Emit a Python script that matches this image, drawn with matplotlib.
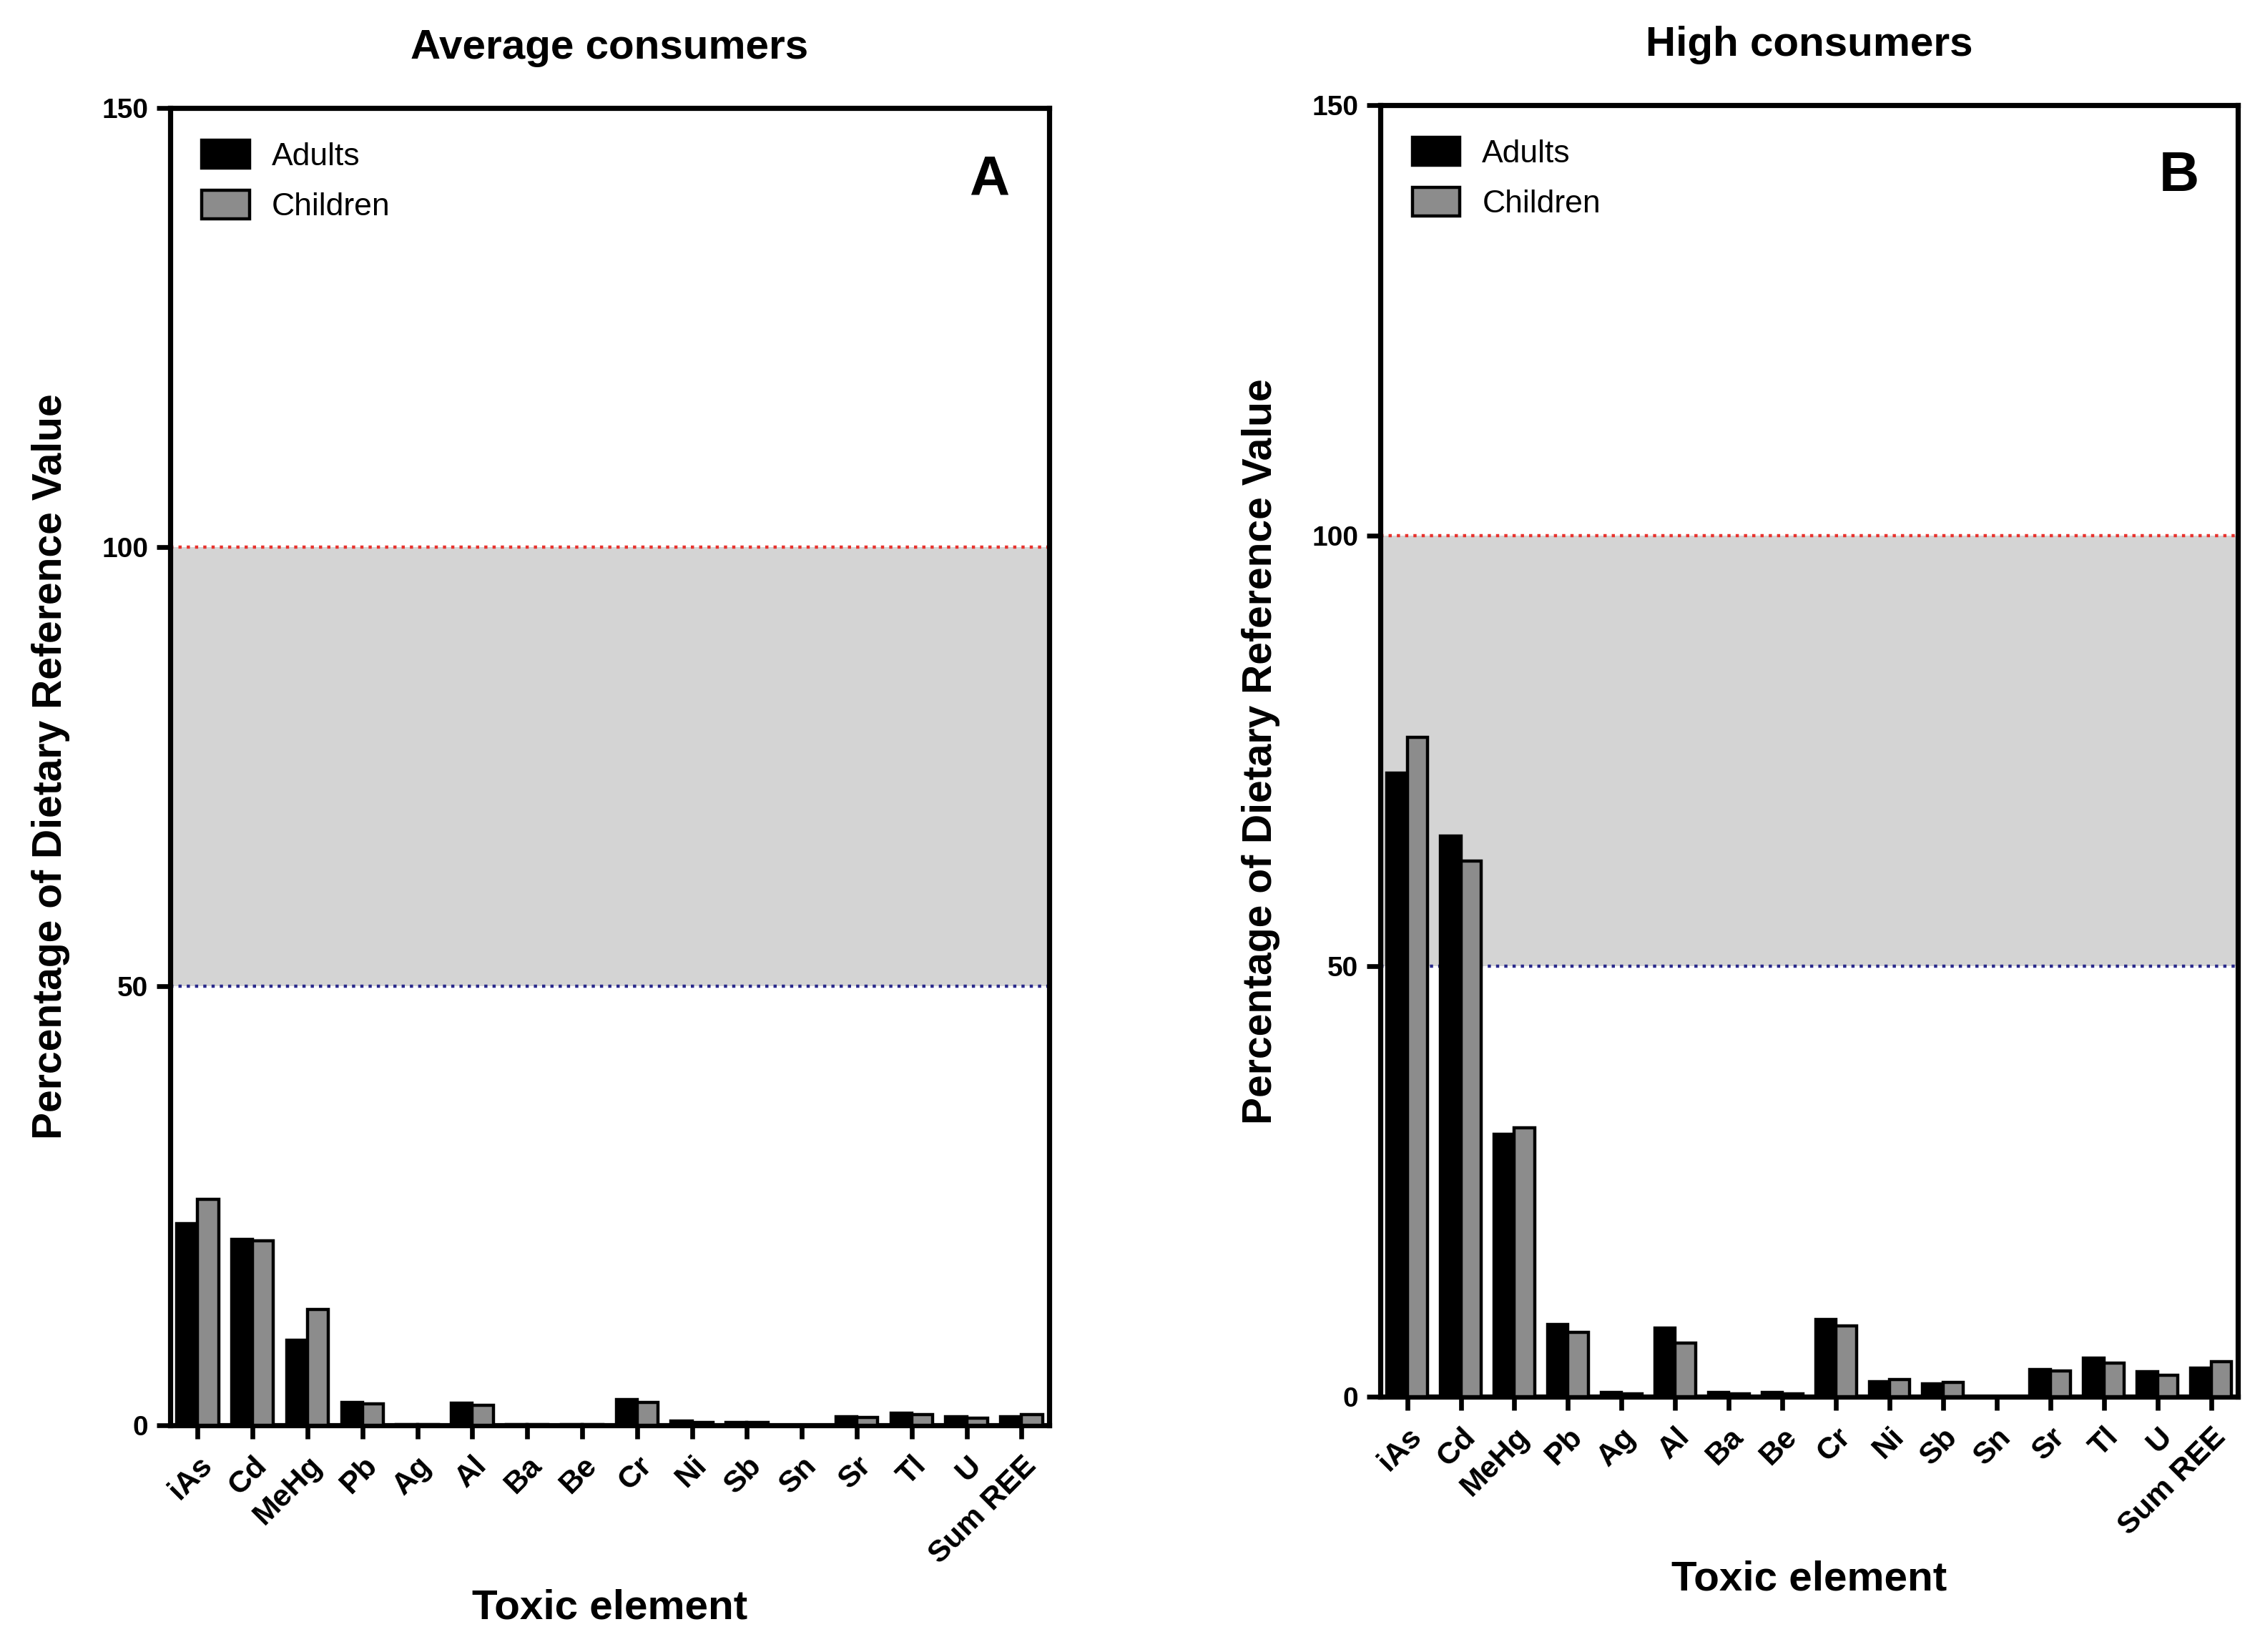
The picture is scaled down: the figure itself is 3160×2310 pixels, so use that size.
import numpy as np
import matplotlib
matplotlib.use("Agg")
import matplotlib.pyplot as plt
from matplotlib.patches import Patch

plt.rcParams['font.family'] = ['Liberation Sans', 'DejaVu Sans']

elements = ["iAs", "Cd", "MeHg", "Pb", "Ag", "Al", "Ba", "Be", "Cr", "Ni",
            "Sb", "Sn", "Sr", "Tl", "U", "Sum REE"]

# panel A - average consumers (% of dietary reference value)
avg_adults = [23.0, 21.2, 9.7, 2.65, 0.1, 2.55, 0.05, 0.05, 2.95, 0.5,
              0.3, 0.0, 1.0, 1.35, 0.95, 1.0]
avg_children = [25.7, 21.0, 13.2, 2.45, 0.05, 2.25, 0.05, 0.05, 2.65, 0.3,
                0.3, 0.0, 0.9, 1.25, 0.8, 1.2]

# panel B - high consumers
high_adults = [72.4, 65.1, 30.5, 8.4, 0.5, 8.0, 0.5, 0.5, 9.0, 1.75,
               1.5, 0.0, 3.2, 4.5, 2.9, 3.3]
high_children = [76.6, 62.2, 31.2, 7.5, 0.3, 6.2, 0.3, 0.3, 8.2, 2.0,
                 1.7, 0.0, 3.0, 3.9, 2.5, 4.1]

titles = ["Average consumers", "High consumers"]
letters = ["A", "B"]


def draw_panel(ax, adults, children, title, letter):
    x = np.arange(len(elements))
    w = 0.38
    ax.axhspan(50, 100, color="#d4d4d4", zorder=0, lw=0)
    ax.axhline(100, color="#e8332e", ls=(0, (1, 1.6)), lw=1.6, zorder=1)
    ax.axhline(50, color="#2a2a8c", ls=(0, (1, 1.6)), lw=1.6, zorder=1)
    ax.bar(x - w / 2, adults, w, color="black", edgecolor="black", lw=1.6,
           zorder=3, label="Adults")
    ax.bar(x + w / 2, children, w, color="#8c8c8c", edgecolor="black", lw=1.6,
           zorder=3, label="Children")

    ax.set_xlim(-0.5, 15.5)
    ax.set_ylim(0, 150)
    ax.set_yticks([0, 50, 100, 150])
    ax.set_xticks(x)
    ax.set_xticklabels(elements, rotation=45, ha="right",
                       rotation_mode="anchor", fontsize=15.5, fontweight="bold")
    for lab in ax.get_yticklabels():
        lab.set_fontsize(14)
        lab.set_fontweight("bold")
    ax.tick_params(axis="both", direction="out", length=7, width=2.4, pad=4)
    ax.tick_params(axis="x", pad=6)
    for s in ax.spines.values():
        s.set_linewidth(2.6)

    ax.set_title(title, fontsize=21, fontweight="bold", pad=25)
    ax.set_xlabel("Toxic element", fontsize=21, fontweight="bold", labelpad=10)
    ax.set_ylabel("Percentage of Dietary Reference Value", fontsize=20.5,
                  fontweight="bold", labelpad=16)
    ax.text(0.955, 0.965, letter, transform=ax.transAxes, fontsize=28,
            fontweight="bold", ha="right", va="top")

    handles = [Patch(facecolor="black", edgecolor="black", lw=1.6),
               Patch(facecolor="#8c8c8c", edgecolor="black", lw=1.6)]
    ax.legend(handles, ["Adults", "Children"], loc="upper left",
              frameon=False, fontsize=16, handlelength=1.5, handleheight=1.0,
              borderaxespad=0.6, labelspacing=0.6, handletextpad=0.7)


fig = plt.figure(figsize=(15.8, 11.55), dpi=200)
ax_a = fig.add_axes([0.0753, 0.1372, 0.3889, 0.7974])
ax_b = fig.add_axes([0.6108, 0.1545, 0.3794, 0.7818])

draw_panel(ax_a, avg_adults, avg_children, titles[0], letters[0])
draw_panel(ax_b, high_adults, high_children, titles[1], letters[1])

fig.savefig("out.png", dpi=200)
